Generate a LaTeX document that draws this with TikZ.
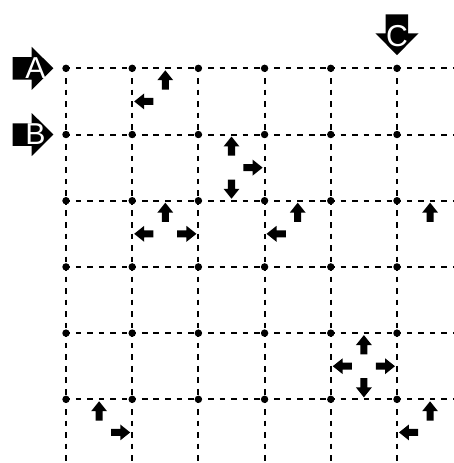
\documentclass[tikz,border=0pt]{standalone}
\usepackage{fontspec}
\setmainfont{Liberation Sans}

\begin{document}
\begin{tikzpicture}[
    dot/.style={circle, fill, inner sep=0pt, minimum size=3.2pt},
    gridline/.style={line width=0.85pt, dash pattern=on 2.4pt off 2.55pt, dash phase=0.75pt},
    letter/.style={text=white, font=\fontsize{13}{13}\selectfont, inner sep=0pt},
    nub/.pic={\fill (0,0) -- (0.12,-0.15) -- (0.053,-0.15) -- (0.053,-0.29) -- (-0.053,-0.29) -- (-0.053,-0.15) -- (-0.12,-0.15) -- cycle;},
    bigarrow/.pic={\fill (0,0) -- (-0.328,0.325) -- (-0.328,0.17) -- (-0.615,0.17) -- (-0.615,-0.17) -- (-0.328,-0.17) -- (-0.328,-0.325) -- cycle;}
]
    \useasboundingbox (-0.997,-5.962) rectangle (5.861,1.032);
    \clip (-0.997,-5.962) rectangle (5.861,1.032);

    \foreach \i in {0,...,5}
        \foreach \j in {0,...,5}
            \node[dot] (p\i\j) at (\i,-\j) {};

    \foreach \j in {0,...,5} {
        \coordinate (e\j) at (5.861,-\j);
        \coordinate (s\j) at (\j,-5.962);
        \draw[gridline] (p5\j.center) -- (e\j);
        \draw[gridline] (p\j5.center) -- (s\j);
        \foreach \i [count=\k] in {0,...,4} {
            \draw[gridline] (p\i\j.center) -- (p\k\j.center);
            \draw[gridline] (p\j\i.center) -- (p\j\k.center);
        }
    }

    \pic at (-0.19,0) {bigarrow};
    \pic at (-0.19,-1) {bigarrow};
    \pic[rotate=-90] at (5,0.2) {bigarrow};
    \node[letter] (A) at (-0.46,0) {A};
    \node[letter] (B) at (-0.46,-1) {B};
    \node[letter] (C) at (5,0.48) {C};

    \foreach \x/\y in {1.5/0, 2.5/1, 1.5/2, 3.5/2, 5.5/2, 4.5/4, 0.5/5, 5.5/5}
        \pic at (\x,-\y-0.03) {nub};
    \foreach \x/\y in {1/0.5, 1/2.5, 3/2.5, 4/4.5, 5/5.5}
        \pic[rotate=90] at (\x+0.03,-\y) {nub};
    \foreach \x/\y in {3/1.5, 2/2.5, 5/4.5, 1/5.5}
        \pic[rotate=-90] at (\x-0.03,-\y) {nub};
    \foreach \x/\y in {2.5/2, 4.5/5}
        \pic[rotate=180] at (\x,-\y+0.03) {nub};
\end{tikzpicture}
\end{document}
